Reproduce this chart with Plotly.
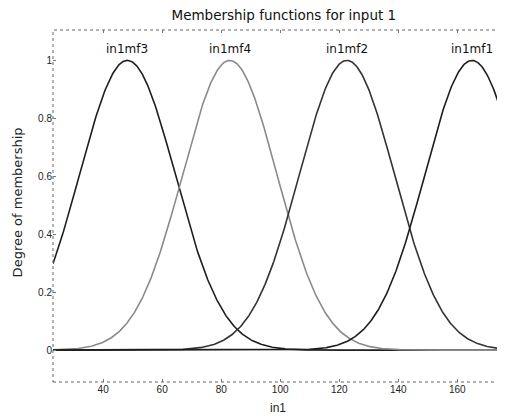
import numpy as np
import plotly.graph_objects as go

# Membership function parameters (Gaussian: centre, sigma)
mf_names = ["in1mf3", "in1mf4", "in1mf2", "in1mf1"]
mf_centers = [48.2, 82.9, 122.6, 165.0]
mf_sigmas = [16.2, 16.0, 16.1, 16.0]
mf_colors = ["#1e1e1e", "#8a8a8a", "#333333", "#1e1e1e"]

x_range = [23, 175.5]
y_range = [-0.11, 1.105]
y_ticks = [0, 0.2, 0.4, 0.6, 0.8, 1]
y_tick_labels = ["0", "0.2", "0.4", "0.6", "0.8", "1"]
x_ticks = [40, 60, 80, 100, 120, 140, 160]

xs = np.linspace(x_range[0], x_range[1], 600)

def gaussmf(x, c, s):
    return np.exp(-((x - c) ** 2) / (2 * s ** 2))

WIDE = "DejaVu Sans, Verdana, sans-serif"

fig = go.Figure()
for name, c, s, col in zip(mf_names, mf_centers, mf_sigmas, mf_colors):
    fig.add_trace(go.Scatter(x=xs, y=gaussmf(xs, c, s), mode="lines",
                             line=dict(color=col, width=1.6), name=name,
                             showlegend=False, hoverinfo="skip"))
    fig.add_annotation(x=c, y=1.04, text=name, showarrow=False,
                       font=dict(size=12, color="#111", family=WIDE), yanchor="middle")

axis_common = dict(showgrid=False, zeroline=False, ticks="inside", ticklen=3,
                   tickcolor="#777", showline=False, mirror="ticks", automargin=False,
                   tickfont=dict(size=10, color="#222"))

fig.update_xaxes(range=x_range, tickvals=x_ticks, **axis_common)
fig.update_yaxes(range=y_range, tickvals=y_ticks, ticktext=y_tick_labels, **axis_common)

fig.add_shape(type="rect", xref="paper", yref="paper", x0=0, y0=0, x1=1, y1=1,
              line=dict(color="#666", width=1, dash="dot"), layer="above")

# axis titles
fig.add_annotation(xref="paper", yref="paper", x=0.5, y=-0.075, yanchor="middle",
                   text="in1", showarrow=False, font=dict(size=12, color="#222"))
fig.add_annotation(xref="paper", yref="paper", x=-0.078, y=0.51, xanchor="center",
                   text="Degree of membership", textangle=-90, showarrow=False,
                   font=dict(size=13, color="#222", family=WIDE))

# page body has an 8px margin, so the figure is sized to fill the rest of the window
fig.update_layout(
    width=497, height=410,
    margin=dict(l=45, r=2, t=22, b=36, autoexpand=False),
    paper_bgcolor="white", plot_bgcolor="white",
    font=dict(family="Liberation Sans, Arial, sans-serif"),
    title=dict(text="Membership functions for input 1", x=0.555, xanchor="center",
               y=0.982, yanchor="middle", font=dict(size=13.5, color="#111", family=WIDE)),
)

fig.write_html("out.html")
